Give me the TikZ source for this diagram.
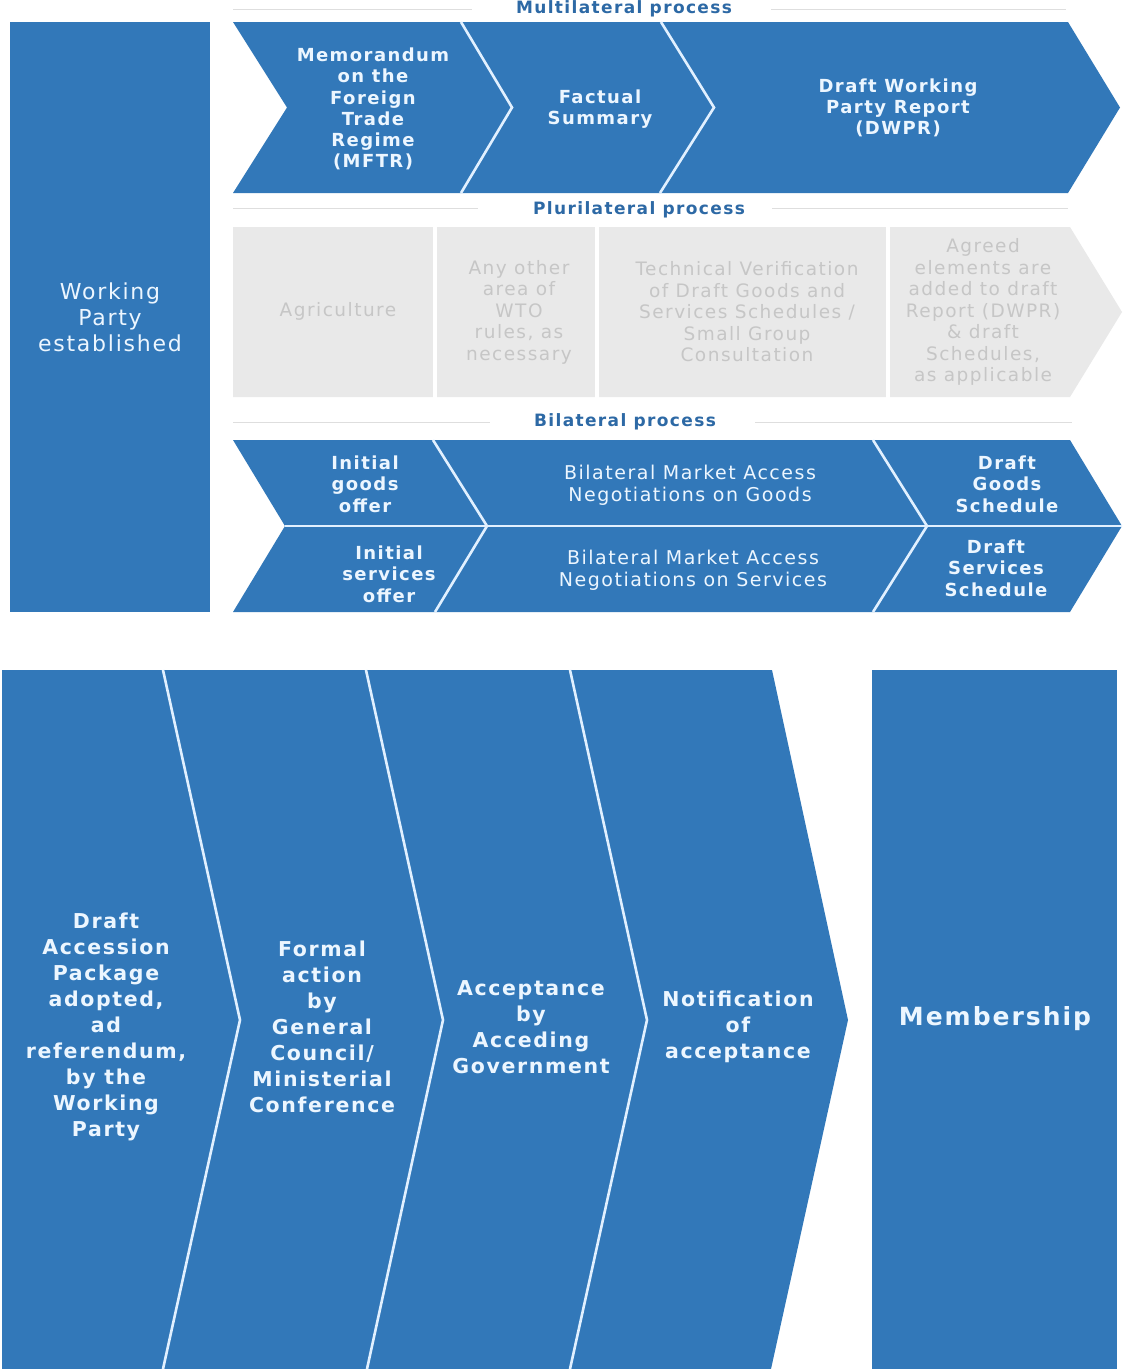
\documentclass[tikz,border=0pt]{standalone}
\usepackage{fontspec}
\setmainfont{DejaVu Sans}[LetterSpace=8]
\definecolor{wblue}{RGB}{50,120,185}
\definecolor{wlabel}{RGB}{45,105,165}
\definecolor{wtext}{RGB}{236,246,255}
\definecolor{wgray}{RGB}{233,233,233}
\definecolor{wgtext}{RGB}{198,198,198}
\definecolor{wrule}{RGB}{222,222,222}
\definecolor{wdiv}{RGB}{225,240,255}
\tikzset{
  blueshape/.style={fill=wblue},
  grayshape/.style={fill=wgray},
  divline/.style={draw=wdiv, line width=2.6pt, line join=miter},
  gapline/.style={draw=white, line width=4pt},
  ruleline/.style={draw=wrule, line width=1pt},
  lbl/.style={text=wlabel, font=\fontsize{17}{20}\selectfont\bfseries, inner sep=0pt},
  toptxt/.style={text=wtext, align=center, inner sep=0pt, font=\fontsize{18}{21.3}\selectfont\bfseries},
  graytxt/.style={text=wgtext, align=center, inner sep=0pt, font=\fontsize{18.5}{21.5}\selectfont},
  bitxt/.style={text=wtext, align=center, inner sep=0pt, font=\fontsize{19}{22}\selectfont},
  bibold/.style={text=wtext, align=center, inner sep=0pt, font=\fontsize{18}{21.5}\selectfont\bfseries},
  wptxt/.style={text=wtext, align=center, inner sep=0pt, font=\fontsize{22}{25.8}\selectfont},
  bottxt/.style={text=wtext, align=center, inner sep=0pt, font=\fontsize{20.5}{26}\selectfont\bfseries},
  membtxt/.style={text=wtext, align=center, inner sep=0pt, font=\fontsize{25}{30}\selectfont\bfseries}
}
\begin{document}
\begin{tikzpicture}[x=1pt,y=-1pt]
\useasboundingbox[fill=white] (0,0) rectangle (1124,1369);

% left box
\fill[blueshape] (10,22) rectangle (210,612);
\node[wptxt] (wp) at (110,317) {Working\\Party\\established};

% multilateral label
\node[lbl] (lmulti) at (624,9) {Multilateral process};
\draw[ruleline] (233,9) -- (472,9);
\draw[ruleline] (771,9) -- (1066,9);

% top chevrons
\fill[blueshape] (233,22) -- (1068,22) -- (1120,107.5) -- (1068,193) -- (233,193) -- (287,107.5) -- cycle;
\draw[divline] (461,22) -- (512,107.5) -- (461,193);
\draw[divline] (661,22) -- (714,107.5) -- (660,193);
\node[toptxt] (memo) at (373,109) {Memorandum\\on the\\Foreign\\Trade\\Regime\\(MFTR)};
\node[toptxt] (fact) at (600,109) {Factual\\Summary};
\node[toptxt] (dwpr) at (898,108) {Draft Working\\Party Report\\(DWPR)};

% plurilateral label
\node[lbl] (lpluri) at (639,210) {Plurilateral process};
\draw[ruleline] (233,208) -- (478,208);
\draw[ruleline] (772,208) -- (1068,208);

% gray row
\fill[grayshape] (233,227) -- (1070,227) -- (1122,312) -- (1070,397) -- (233,397) -- cycle;
\draw[gapline] (434.5,225) -- (434.5,399);
\draw[gapline] (597,225) -- (597,399);
\draw[gapline] (888,225) -- (888,399);
\node[graytxt] (agri) at (338,311) {Agriculture};
\node[graytxt] (other) at (519,312) {Any other\\area of\\WTO\\rules, as\\necessary};
\node[graytxt] (tech) at (747,312) {Technical Verification\\of Draft Goods and\\Services Schedules /\\Small Group\\Consultation};
\node[graytxt] (agreed) at (983,312) {Agreed\\elements are\\added to draft\\Report (DWPR)\\\& draft\\Schedules,\\as applicable};

% bilateral label
\node[lbl] (lbi) at (625,422) {Bilateral process};
\draw[ruleline] (233,422) -- (490,422);
\draw[ruleline] (755,422) -- (1072,422);

% bilateral chevrons
\fill[blueshape] (233,440) -- (1070,440) -- (1122,526) -- (1070,612) -- (233,612) -- (285,526) -- cycle;
\draw[draw=wdiv, line width=2.2pt] (285,526) -- (1122,526);
\draw[divline] (433,440) -- (487,526) -- (435,612);
\draw[divline] (873,440) -- (927,526) -- (873,612);
\node[bibold] (igo) at (365,484) {Initial\\goods\\offer};
\node[bibold] (iso) at (389,574) {Initial\\services\\offer};
\node[bitxt] (bmag) at (690,485) {Bilateral Market Access\\Negotiations on Goods};
\node[bitxt] (bmas) at (693,570) {Bilateral Market Access\\Negotiations on Services};
\node[bibold] (dgs) at (1007,484) {Draft\\Goods\\Schedule};
\node[bibold] (dss) at (996,568) {Draft\\Services\\Schedule};

% bottom chevrons
\fill[blueshape] (2,670) -- (772,670) -- (848,1020) -- (771,1369) -- (2,1369) -- cycle;
\draw[divline] (163,670) -- (240,1020) -- (163,1369);
\draw[divline] (366,670) -- (443,1020) -- (367,1369);
\draw[divline] (570,670) -- (647,1020) -- (570,1369);
\fill[blueshape] (872,670) rectangle (1117,1369);
\node[bottxt] (dap) at (106,1027) {Draft\\Accession\\Package\\adopted,\\ad\\referendum,\\by the\\Working\\Party};
\node[bottxt] (formal) at (322,1027) {Formal\\action\\by\\General\\Council/\\Ministerial\\Conference};
\node[bottxt] (accept) at (531,1027) {Acceptance\\by\\Acceding\\Government};
\node[bottxt] (notif) at (738,1027) {Notification\\of\\acceptance};
\node[membtxt] (memb) at (995,1019) {Membership};
\end{tikzpicture}
\end{document}
